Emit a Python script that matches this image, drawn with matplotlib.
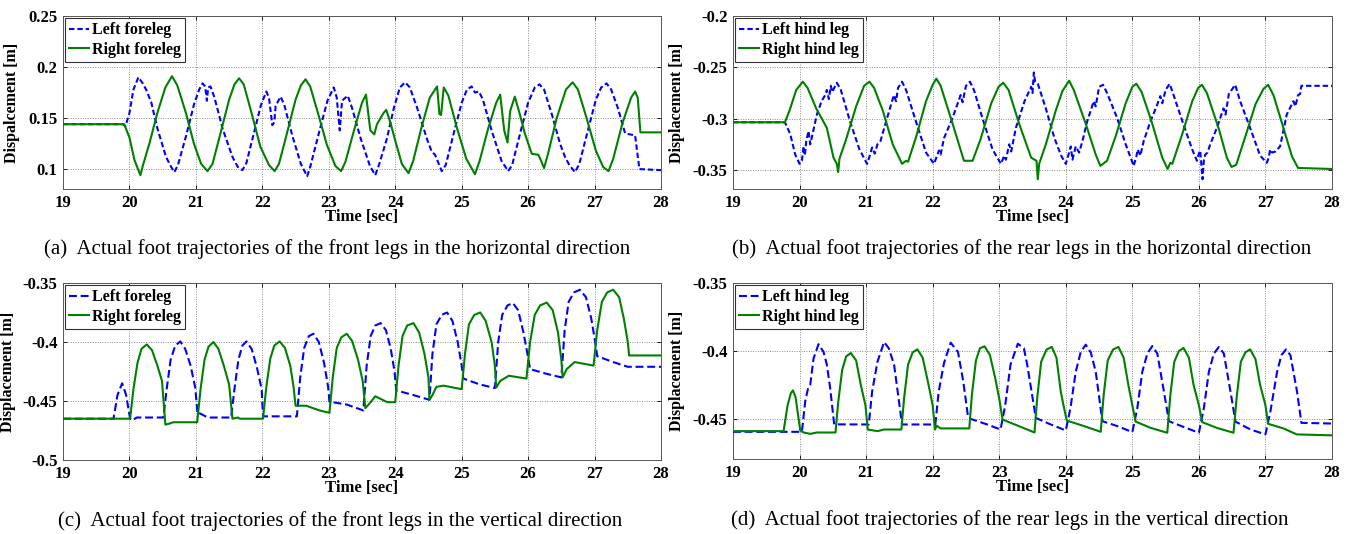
import matplotlib
matplotlib.use('Agg')
import matplotlib.pyplot as plt
from matplotlib.ticker import FixedLocator, FuncFormatter

# ---------------- data ----------------
time_ticks = [19, 20, 21, 22, 23, 24, 25, 26, 27, 28]

# (a) front legs, horizontal
a_left_t = [19.0, 19.90, 19.94, 20.00, 20.06, 20.135, 20.20, 20.25, 20.33, 20.42, 20.55, 20.62, 20.675, 20.73, 20.85,
            20.97, 21.05, 21.10, 21.14, 21.165, 21.185, 21.22, 21.28, 21.40, 21.55, 21.64, 21.70, 21.76, 21.88, 21.98,
            22.06, 22.10, 22.15, 22.18, 22.20, 22.275, 22.33, 22.45, 22.58, 22.675, 22.72, 22.85, 22.98, 23.075, 23.12,
            23.165, 23.20, 23.285, 23.35, 23.48, 23.62, 23.70, 23.76, 23.875, 23.98, 24.07, 24.15, 24.22, 24.33, 24.475,
            24.55, 24.60, 24.70, 24.76, 24.88, 25.00, 25.08, 25.15, 25.20, 25.26, 25.32, 25.45, 25.60, 25.70, 25.76,
            25.88, 26.00, 26.10, 26.17, 26.24, 26.36, 26.48, 26.555, 26.62, 26.705, 26.77, 26.90, 27.02, 27.10, 27.18,
            27.25, 27.35, 27.46, 27.61, 27.675, 28.0]
a_left_v = [0.144, 0.144, 0.142, 0.155, 0.178, 0.190, 0.184, 0.178, 0.165, 0.140, 0.112, 0.103, 0.097, 0.104, 0.132,
            0.163, 0.178, 0.184, 0.181, 0.167, 0.180, 0.181, 0.170, 0.140, 0.112, 0.101, 0.099, 0.106, 0.137, 0.163,
            0.176, 0.170, 0.143, 0.146, 0.162, 0.171, 0.163, 0.133, 0.105, 0.093, 0.102, 0.135, 0.167, 0.180, 0.170,
            0.138, 0.167, 0.172, 0.160, 0.130, 0.103, 0.094, 0.105, 0.130, 0.160, 0.180, 0.185, 0.180, 0.160, 0.130,
            0.117, 0.114, 0.098, 0.104, 0.135, 0.165, 0.178, 0.181, 0.175, 0.176, 0.168, 0.138, 0.108, 0.098, 0.104,
            0.135, 0.165, 0.180, 0.183, 0.178, 0.153, 0.125, 0.112, 0.104, 0.097, 0.105, 0.138, 0.168, 0.180, 0.184,
            0.178, 0.160, 0.135, 0.133, 0.100, 0.099]
a_right_t = [19.0, 19.92, 20.00, 20.075, 20.165, 20.20, 20.30, 20.42, 20.54, 20.64, 20.72, 20.85, 20.97, 21.08, 21.175,
             21.25, 21.37, 21.50, 21.58, 21.65, 21.72, 21.85, 21.97, 22.10, 22.185, 22.25, 22.37, 22.50, 22.58, 22.65,
             22.72, 22.85, 22.97, 23.10, 23.185, 23.25, 23.38, 23.50, 23.56, 23.625, 23.685, 23.725, 23.825, 23.865,
             23.93, 24.00, 24.10, 24.20, 24.27, 24.40, 24.52, 24.63, 24.665, 24.69, 24.73, 24.80, 24.93, 25.07, 25.20,
             25.27, 25.40, 25.52, 25.58, 25.64, 25.69, 25.73, 25.80, 25.87, 25.95, 26.055, 26.155, 26.19, 26.24, 26.30,
             26.43, 26.57, 26.67, 26.75, 26.88, 27.02, 27.13, 27.21, 27.28, 27.42, 27.55, 27.61, 27.65, 27.69, 28.0]
a_right_v = [0.144, 0.144, 0.131, 0.109, 0.094, 0.103, 0.125, 0.155, 0.180, 0.191, 0.182, 0.155, 0.125, 0.105, 0.098,
             0.105, 0.135, 0.168, 0.183, 0.189, 0.183, 0.152, 0.122, 0.104, 0.098, 0.105, 0.135, 0.168, 0.182, 0.188,
             0.181, 0.152, 0.124, 0.103, 0.098, 0.107, 0.138, 0.165, 0.173, 0.138, 0.134, 0.144, 0.155, 0.158,
             0.145, 0.128, 0.105, 0.096, 0.108, 0.142, 0.170, 0.181, 0.154, 0.153, 0.180, 0.172, 0.140, 0.110, 0.095,
             0.108, 0.140, 0.165, 0.173, 0.138, 0.126, 0.157, 0.171, 0.155, 0.135, 0.115, 0.114, 0.109, 0.101, 0.115,
             0.150, 0.178, 0.185, 0.178, 0.150, 0.118, 0.102, 0.098, 0.110, 0.145, 0.170, 0.176, 0.170, 0.136, 0.136]

# (b) rear legs, horizontal
b_left_t = [19.0, 19.78, 19.86, 19.935, 20.00, 20.035, 20.06, 20.08, 20.10, 20.135, 20.16, 20.185, 20.26, 20.33, 20.385,
            20.41, 20.44, 20.47, 20.49, 20.56, 20.62, 20.76, 20.90, 21.015, 21.06, 21.09, 21.13, 21.17, 21.215, 21.317,
            21.417, 21.45, 21.48, 21.54, 21.60, 21.75, 21.90, 22.02, 22.06, 22.095, 22.12, 22.17, 22.30, 22.42, 22.45,
            22.50, 22.56, 22.62, 22.75, 22.90, 23.025, 23.075, 23.10, 23.15, 23.18, 23.25, 23.38, 23.48, 23.50, 23.52,
            23.54, 23.58, 23.70, 23.83, 23.93, 24.00, 24.05, 24.075, 24.10, 24.15, 24.20, 24.25, 24.32, 24.42, 24.45,
            24.50, 24.56, 24.62, 24.77, 24.90, 25.02, 25.06, 25.08, 25.12, 25.17, 25.27, 25.37, 25.42, 25.45, 25.50,
            25.56, 25.62, 25.77, 25.90, 25.97, 26.00, 26.02, 26.055, 26.075, 26.095, 26.13, 26.17, 26.27, 26.37, 26.40,
            26.45, 26.545, 26.62, 26.77, 26.92, 27.02, 27.05, 27.07, 27.10, 27.15, 27.22, 27.32, 27.42, 27.45, 27.49,
            27.52, 27.54, 28.0]
b_left_v = [-0.3035, -0.3035, -0.315, -0.335, -0.344, -0.341, -0.327, -0.336, -0.322, -0.312, -0.325, -0.318, -0.296,
            -0.283, -0.277, -0.272, -0.281, -0.268, -0.274, -0.265, -0.272, -0.303, -0.330, -0.344, -0.335, -0.328,
            -0.334, -0.325, -0.322, -0.299, -0.277, -0.283, -0.270, -0.264, -0.272, -0.303, -0.333, -0.344, -0.337,
            -0.331, -0.335, -0.319, -0.299, -0.277, -0.284, -0.268, -0.264, -0.272, -0.300, -0.330, -0.344, -0.336,
            -0.340, -0.325, -0.332, -0.309, -0.283, -0.269, -0.275, -0.255, -0.264, -0.266, -0.290, -0.319, -0.336,
            -0.344, -0.333, -0.327, -0.340, -0.327, -0.333, -0.322, -0.303, -0.283, -0.288, -0.269, -0.267, -0.275,
            -0.299, -0.325, -0.346, -0.337, -0.330, -0.336, -0.322, -0.303, -0.287, -0.278, -0.285, -0.272, -0.266,
            -0.277, -0.306, -0.330, -0.341, -0.334, -0.331, -0.359, -0.340, -0.335, -0.333, -0.325, -0.309, -0.290,
            -0.296, -0.276, -0.267, -0.283, -0.309, -0.336, -0.343, -0.338, -0.330, -0.333, -0.332, -0.327, -0.296,
            -0.283, -0.288, -0.277, -0.276, -0.268, -0.268]
b_right_t = [19.0, 19.78, 19.85, 19.95, 20.05, 20.12, 20.25, 20.41, 20.51, 20.56, 20.58, 20.60, 20.70, 20.85, 20.97,
             21.05, 21.12, 21.25, 21.40, 21.54, 21.60, 21.63, 21.75, 21.90, 22.00, 22.055, 22.12, 22.30, 22.47, 22.60,
             22.72, 22.88, 22.99, 23.06, 23.14, 23.30, 23.48, 23.56, 23.58, 23.60, 23.70, 23.85, 23.95, 24.05, 24.12,
             24.30, 24.45, 24.52, 24.62, 24.75, 24.90, 25.00, 25.06, 25.14, 25.30, 25.45, 25.53, 25.57, 25.60, 25.75,
             25.90, 25.99, 26.045, 26.12, 26.30, 26.42, 26.49, 26.56, 26.70, 26.85, 26.97, 27.04, 27.12, 27.27, 27.40,
             27.49, 28.0]
b_right_v = [-0.3035, -0.3035, -0.292, -0.272, -0.264, -0.270, -0.290, -0.309, -0.338, -0.344, -0.352, -0.339, -0.320,
             -0.288, -0.268, -0.264, -0.270, -0.292, -0.325, -0.344, -0.341, -0.342, -0.318, -0.283, -0.267, -0.261,
             -0.268, -0.305, -0.341, -0.341, -0.320, -0.285, -0.269, -0.265, -0.272, -0.305, -0.338, -0.341, -0.359,
             -0.344, -0.325, -0.292, -0.273, -0.263, -0.272, -0.305, -0.335, -0.346, -0.341, -0.317, -0.285, -0.269,
             -0.266, -0.274, -0.305, -0.338, -0.349, -0.343, -0.344, -0.315, -0.283, -0.270, -0.267, -0.275, -0.310,
             -0.338, -0.347, -0.345, -0.317, -0.286, -0.271, -0.267, -0.277, -0.309, -0.337, -0.348, -0.349]

# (c) front legs, vertical
c_left_t = [19.0, 19.76, 19.82, 19.89, 19.95, 20.01, 20.04, 20.11, 20.51, 20.56, 20.62, 20.69, 20.765, 20.84, 20.92,
            20.99, 21.025, 21.06, 21.18, 21.53, 21.58, 21.64, 21.70, 21.76, 21.84, 21.92, 21.99, 22.01, 22.52, 22.57,
            22.63, 22.70, 22.77, 22.85, 22.93, 22.99, 23.01, 23.27, 23.52, 23.57, 23.63, 23.70, 23.78, 23.86, 23.93,
            23.99, 24.015, 24.275, 24.515, 24.56, 24.62, 24.70, 24.78, 24.86, 24.94, 25.00, 25.025, 25.275, 25.50,
            25.55, 25.61, 25.69, 25.77, 25.85, 25.93, 25.99, 26.03, 26.28, 26.50, 26.55, 26.61, 26.69, 26.78, 26.87,
            26.95, 27.01, 27.04, 27.28, 27.50, 28.0]
c_left_v = [-0.465, -0.465, -0.445, -0.435, -0.445, -0.465, -0.4665, -0.464, -0.464, -0.440, -0.415, -0.403, -0.3995,
            -0.406, -0.420, -0.4386, -0.461, -0.4605, -0.464, -0.464, -0.440, -0.415, -0.403, -0.3995, -0.406, -0.422,
            -0.440, -0.463, -0.463, -0.430, -0.405, -0.395, -0.393, -0.400, -0.418, -0.438, -0.4506, -0.453, -0.458,
            -0.420, -0.395, -0.386, -0.384, -0.390, -0.405, -0.425, -0.441, -0.445, -0.449, -0.410, -0.385, -0.377,
            -0.375, -0.382, -0.400, -0.420, -0.431, -0.436, -0.439, -0.400, -0.377, -0.369, -0.367, -0.373, -0.392,
            -0.410, -0.423, -0.427, -0.430, -0.390, -0.366, -0.358, -0.3557, -0.362, -0.380, -0.400, -0.412, -0.417,
            -0.421, -0.421]
c_right_t = [19.0, 20.01, 20.06, 20.12, 20.18, 20.26, 20.34, 20.42, 20.49, 20.54, 20.61, 20.66, 21.02, 21.07, 21.13,
             21.19, 21.265, 21.34, 21.42, 21.50, 21.55, 21.63, 21.66, 22.01, 22.06, 22.12, 22.18, 22.26, 22.34, 22.42,
             22.47, 22.50, 22.66, 22.86, 23.01, 23.06, 23.12, 23.19, 23.27, 23.35, 23.44, 23.51, 23.55, 23.60, 23.70,
             23.88, 24.00, 24.05, 24.11, 24.18, 24.275, 24.36, 24.44, 24.50, 24.515, 24.56, 24.62, 24.73, 25.00, 25.05,
             25.11, 25.19, 25.28, 25.36, 25.45, 25.50, 25.52, 25.58, 25.71, 25.975, 26.03, 26.10, 26.18, 26.28, 26.37,
             26.45, 26.50, 26.52, 26.58, 26.70, 26.985, 27.04, 27.11, 27.19, 27.28, 27.37, 27.44, 27.50, 27.52, 28.0]
c_right_v = [-0.465, -0.465, -0.440, -0.418, -0.406, -0.402, -0.407, -0.420, -0.433, -0.470, -0.469, -0.468, -0.468,
             -0.440, -0.415, -0.404, -0.400, -0.406, -0.420, -0.436, -0.465, -0.464, -0.465, -0.465, -0.438, -0.414,
             -0.403, -0.3995, -0.405, -0.420, -0.438, -0.454, -0.454, -0.458, -0.460, -0.430, -0.405, -0.396, -0.393,
             -0.399, -0.415, -0.433, -0.456, -0.453, -0.446, -0.451, -0.451, -0.420, -0.395, -0.386, -0.384, -0.392,
             -0.410, -0.430, -0.449, -0.445, -0.438, -0.437, -0.440, -0.410, -0.385, -0.377, -0.375, -0.382, -0.400,
             -0.420, -0.4386, -0.433, -0.4286, -0.431, -0.400, -0.377, -0.369, -0.3666, -0.373, -0.392, -0.415, -0.430,
             -0.423, -0.417, -0.420, -0.390, -0.366, -0.358, -0.3557, -0.362, -0.380, -0.400, -0.4114, -0.4114]

# (d) rear legs, vertical
d_left_t = [19.0, 20.035, 20.085, 20.13, 20.16, 20.21, 20.285, 20.36, 20.41, 20.46, 20.52, 21.04, 21.09, 21.17, 21.27,
            21.34, 21.42, 21.54, 22.04, 22.09, 22.17, 22.27, 22.38, 22.46, 22.53, 22.57, 22.82, 23.02, 23.09, 23.17,
            23.28, 23.37, 23.42, 23.55, 23.77, 24.00, 24.07, 24.15, 24.225, 24.30, 24.375, 24.45, 24.55, 24.775, 25.00,
            25.075, 25.15, 25.225, 25.30, 25.375, 25.475, 25.55, 25.775, 26.00, 26.075, 26.15, 26.225, 26.30, 26.375,
            26.475, 26.55, 26.775, 27.00, 27.075, 27.175, 27.24, 27.31, 27.375, 27.475, 27.54, 28.0]
d_left_v = [-0.4595, -0.4595, -0.437, -0.427, -0.425, -0.4056, -0.395, -0.4007, -0.410, -0.4274, -0.454, -0.4541, -0.430,
            -0.408, -0.3934, -0.398, -0.410, -0.4541, -0.4541, -0.430, -0.409, -0.3939, -0.4007, -0.4226, -0.448, -0.450,
            -0.4541, -0.4578, -0.440, -0.410, -0.3947, -0.398, -0.410, -0.4493, -0.454, -0.4585, -0.442, -0.4153,
            -0.4007, -0.3954, -0.401, -0.4153, -0.4517, -0.4553, -0.4597, -0.442, -0.4153, -0.4019, -0.3964, -0.4019,
            -0.430, -0.4517, -0.456, -0.4602, -0.442, -0.4153, -0.4019, -0.3971, -0.4019, -0.430, -0.452, -0.4578,
            -0.4614, -0.4444, -0.4153, -0.4031, -0.3988, -0.4031, -0.430, -0.4529, -0.4534]
d_right_t = [19.0, 19.76, 19.82, 19.87, 19.90, 19.94, 19.98, 20.01, 20.06, 20.16, 20.26, 20.54, 20.58, 20.64, 20.70,
             20.77, 20.85, 20.92, 20.99, 21.025, 21.17, 21.27, 21.53, 21.57, 21.63, 21.70, 21.77, 21.85, 21.93, 22.00,
             22.035, 22.06, 22.12, 22.55, 22.59, 22.65, 22.71, 22.78, 22.86, 22.94, 23.00, 23.05, 23.28, 23.53, 23.57,
             23.63, 23.71, 23.79, 23.86, 23.925, 23.97, 24.015, 24.275, 24.525, 24.57, 24.63, 24.71, 24.79, 24.87, 24.94,
             25.00, 25.05, 25.275, 25.525, 25.57, 25.63, 25.70, 25.77, 25.85, 25.92, 26.00, 26.05, 26.27, 26.52, 26.57,
             26.63, 26.70, 26.77, 26.85, 26.92, 27.00, 27.04, 27.27, 27.47, 28.0]
d_right_v = [-0.459, -0.459, -0.440, -0.431, -0.429, -0.434, -0.448, -0.4585, -0.460, -0.461, -0.460, -0.460, -0.438,
             -0.414, -0.404, -0.4015, -0.407, -0.425, -0.440, -0.4578, -0.459, -0.4578, -0.4578, -0.435, -0.410, -0.401,
             -0.3988, -0.405, -0.423, -0.440, -0.4578, -0.455, -0.457, -0.457, -0.432, -0.407, -0.398, -0.3966, -0.403,
             -0.420, -0.435, -0.4505, -0.455, -0.460, -0.435, -0.408, -0.399, -0.397, -0.405, -0.430, -0.441, -0.4512,
             -0.4553, -0.4595, -0.432, -0.407, -0.399, -0.397, -0.405, -0.425, -0.440, -0.452, -0.4566, -0.4602, -0.433,
             -0.408, -0.400, -0.3978, -0.405, -0.425, -0.440, -0.4524, -0.4566, -0.4602, -0.433, -0.408, -0.401, -0.3988,
             -0.406, -0.425, -0.440, -0.4536, -0.457, -0.4614, -0.4621]

a_yticks = [0.1, 0.15, 0.2, 0.25]
b_yticks = [-0.35, -0.3, -0.25, -0.2]
c_yticks = [-0.5, -0.45, -0.4, -0.35]
d_yticks = [-0.45, -0.4, -0.35]

front_labels = ['Left foreleg', 'Right foreleg']
rear_labels = ['Left hind leg', 'Right hind leg']

captions = ['(a)  Actual foot trajectories of the front legs in the horizontal direction',
            '(b)  Actual foot trajectories of the rear legs in the horizontal direction',
            '(c)  Actual foot trajectories of the front legs in the vertical direction',
            '(d)  Actual foot trajectories of the rear legs in the vertical direction']

# ---------------- figure ----------------
plt.rcParams['font.family'] = ['Liberation Serif', 'DejaVu Serif']
plt.rcParams['font.weight'] = 'bold'

W, H = 1357, 534
fig = plt.figure(figsize=(W / 100, H / 100), dpi=100)


def rect(x0, x1, y0, y1):
    return [x0 / W, 1 - y1 / H, (x1 - x0) / W, (y1 - y0) / H]


def fmt(v, pos):
    s = '%.2f' % v
    s = s.rstrip('0')
    if s.endswith('.'):
        s = s[:-1]
    if s in ('-0', '0'):
        s = '0'
    return s


panels = [
    dict(r=rect(63, 661, 16, 189), L=(a_left_t, a_left_v), R=(a_right_t, a_right_v), ylim=(0.0805, 0.25),
         yt=a_yticks, ylab='Dispalcement [m]', labs=front_labels, ylc=-0.072, dash=(2.6, 1.4),
         cap=captions[0], cx=337, cy=249),
    dict(r=rect(733, 1332, 16, 189), L=(b_left_t, b_left_v), R=(b_right_t, b_right_v), ylim=(-0.3685, -0.2),
         yt=b_yticks, ylab='Displacement [m]', labs=rear_labels, ylc=-0.08, dash=(2.6, 1.4),
         cap=captions[1], cx=1022, cy=249),
    dict(r=rect(63, 661, 283, 460), L=(c_left_t, c_left_v), R=(c_right_t, c_right_v), ylim=(-0.5, -0.35),
         yt=c_yticks, ylab='Displacement [m]', labs=front_labels, ylc=-0.079, dash=(3.8, 1.8),
         cap=captions[2], cx=340, cy=521),
    dict(r=rect(733, 1332, 283, 459), L=(d_left_t, d_left_v), R=(d_right_t, d_right_v), ylim=(-0.4795, -0.35),
         yt=d_yticks, ylab='Displacement [m]', labs=rear_labels, ylc=-0.08, dash=(3.8, 1.8),
         cap=captions[3], cx=1010, cy=520),
]

blue = '#0000ff'
green = '#007f00'

for p in panels:
    ax = fig.add_axes(p['r'])
    tl, vl = p['L']
    tr, vr = p['R']
    ax.plot(tl, vl, color=blue, lw=1.5, linestyle=(0, p['dash']), label=p['labs'][0], zorder=3)
    ax.plot(tr, vr, color=green, lw=1.5, linestyle='-', label=p['labs'][1], zorder=3)
    ax.set_xlim(19, 28)
    ax.set_ylim(*p['ylim'])
    ax.xaxis.set_major_locator(FixedLocator(time_ticks))
    ax.yaxis.set_major_locator(FixedLocator(p['yt']))
    ax.yaxis.set_major_formatter(FuncFormatter(fmt))
    ax.grid(True, linestyle=(0, (1, 1.5)), color='0.55', linewidth=0.7)
    ax.tick_params(direction='in', length=3, width=0.6, top=True, right=True,
                   labelsize=12, pad=4, colors='black')
    for lab in ax.get_xticklabels() + ax.get_yticklabels():
        lab.set_fontweight('bold')
    for sp in ax.spines.values():
        sp.set_color('0.35')
        sp.set_linewidth(0.7)
    ax.set_xlabel('Time [sec]', fontsize=12, fontweight='bold', labelpad=-1)
    ax.set_ylabel(p['ylab'], fontsize=11.5, fontweight='bold')
    ax.yaxis.set_label_coords(p['ylc'], 0.5)
    leg = ax.legend(loc='upper left', fontsize=11.5, frameon=True, fancybox=False, framealpha=1,
                    edgecolor='0.2', borderaxespad=0.15, borderpad=0.25, labelspacing=0.2,
                    handlelength=1.2, handletextpad=0.2)
    leg.get_frame().set_linewidth(0.8)
    for t in leg.get_texts():
        t.set_fontweight('bold')
    fig.text(p['cx'] / W, 1 - p['cy'] / H, p['cap'], ha='center', va='center',
             fontsize=15, fontweight='normal')

fig.savefig('out.png', dpi=100)
